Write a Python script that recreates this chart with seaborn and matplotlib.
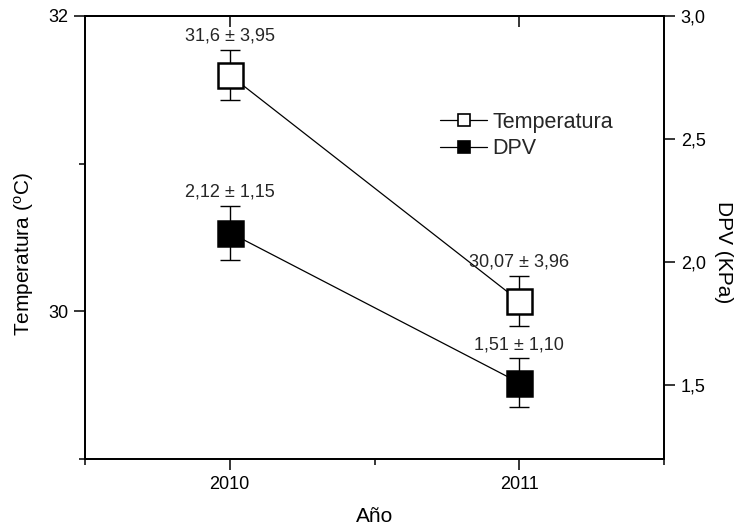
import matplotlib
matplotlib.use('Agg')
import matplotlib.pyplot as plt
import seaborn as sns
import pandas as pd
from matplotlib.lines import Line2D
from matplotlib.ticker import FixedLocator, FuncFormatter

years = [2010, 2011]
temp_mean = [31.6, 30.07]
temp_err = [0.17, 0.17]
dpv_mean = [2.12, 1.51]
dpv_err = [0.11, 0.10]
temp_labels = ["31,6 ± 3,95", "30,07 ± 3,96"]
dpv_labels = ["2,12 ± 1,15", "1,51 ± 1,10"]
temp_ticks = [30, 32]
dpv_ticks = [1.5, 2.0, 2.5, 3.0]

sns.set_theme(style='ticks')
plt.rcParams['font.family'] = ['Liberation Sans', 'DejaVu Sans']
plt.rcParams['mathtext.default'] = 'regular'

df_t = pd.DataFrame({'Año': years, 'Temperatura': temp_mean})
df_d = pd.DataFrame({'Año': years, 'DPV': dpv_mean})

fig = plt.figure(figsize=(7.36, 5.27), dpi=100)
ax = fig.add_axes([85/736, 1-459/527, (664-85)/736, (459-16)/527])
ax2 = ax.twinx()

# Temperature
ax.errorbar(years, temp_mean, yerr=temp_err, fmt='none', ecolor='black',
            elinewidth=1.0, capsize=7, capthick=1.0, zorder=2)
sns.lineplot(data=df_t, x='Año', y='Temperatura', ax=ax, color='black', lw=0.9,
             marker='s', markersize=18, markerfacecolor='white',
             markeredgecolor='black', markeredgewidth=1.8, zorder=3, legend=False)

# DPV
ax2.errorbar(years, dpv_mean, yerr=dpv_err, fmt='none', ecolor='black',
             elinewidth=1.0, capsize=7, capthick=1.0, zorder=2)
sns.lineplot(data=df_d, x='Año', y='DPV', ax=ax2, color='black', lw=0.9,
             marker='s', markersize=18, markerfacecolor='black',
             markeredgecolor='black', markeredgewidth=1.8, zorder=3, legend=False)

for x, m, e, lab in zip(years, temp_mean, temp_err, temp_labels):
    ax.annotate(lab, (x, m + e), xytext=(0, 6.5), textcoords='offset points',
                ha='center', va='baseline', fontsize=13)
for x, m, e, lab in zip(years, dpv_mean, dpv_err, dpv_labels):
    ax2.annotate(lab, (x, m + e), xytext=(0, 6.5), textcoords='offset points',
                 ha='center', va='baseline', fontsize=13)

ax.set_xlim(2009.5, 2011.5)
ax.set_ylim(29, 32)
ax2.set_ylim(1.2, 3.0)

ax.xaxis.set_major_locator(FixedLocator(years))
ax.xaxis.set_minor_locator(FixedLocator([2009.5, 2010.5, 2011.5]))
ax.xaxis.set_major_formatter(FuncFormatter(lambda v, p: f"{int(round(v))}"))
ax.yaxis.set_major_locator(FixedLocator(temp_ticks))
ax.yaxis.set_minor_locator(FixedLocator([29, 31]))
ax2.yaxis.set_major_locator(FixedLocator(dpv_ticks))
ax2.yaxis.set_major_formatter(FuncFormatter(lambda v, p: f"{v:.1f}".replace('.', ',')))

for a in (ax, ax2):
    for s in a.spines.values():
        s.set_linewidth(1.3)
        s.set_color('black')
        s.set_visible(True)

ax.tick_params(axis='both', which='major', direction='out', length=8, width=1.1,
               color='black', labelsize=13, labelcolor='black', pad=4)
ax.tick_params(axis='both', which='minor', direction='out', length=4, width=1.1,
               color='black')
ax2.tick_params(axis='y', which='major', direction='out', length=8, width=1.1,
                color='black', labelsize=13, labelcolor='black', pad=4)
ax2.tick_params(axis='y', which='minor', length=0)

top = ax.secondary_xaxis('top')
top.xaxis.set_major_locator(FixedLocator(years))
top.tick_params(axis='x', direction='in', length=8, width=1.1, color='black',
                labeltop=False)
top.spines['top'].set_linewidth(1.3)

ax.set_xlabel('Año', fontsize=15, color='black', va='center')
ax.xaxis.set_label_coords(0.5, -(517-459)/443)
ax.set_ylabel('Temperatura ($^{o}$C)', fontsize=15, color='black',
              ha='center', va='center')
ax.yaxis.set_label_coords((24-85)/579, (459-254)/443)
ax2.set_ylabel('DPV (KPa)', fontsize=15, rotation=-90, ha='center', va='center',
               color='black')
ax2.yaxis.set_label_coords((723-85)/579, (459-252)/443)

handles = [
    Line2D([0], [0], color='black', lw=0.9, marker='s', markersize=8,
           markerfacecolor='white', markeredgecolor='black', markeredgewidth=1.2),
    Line2D([0], [0], color='black', lw=0.9, marker='s', markersize=8,
           markerfacecolor='black', markeredgecolor='black', markeredgewidth=1.2),
]
ax2.legend(handles, ['Temperatura', 'DPV'], loc='upper left',
           bbox_to_anchor=(440/736, 1-112/527), bbox_transform=fig.transFigure,
           frameon=False, fontsize=15.5, handlelength=2.2, handletextpad=0.25,
           labelspacing=0.25, borderpad=0, borderaxespad=0)

fig.savefig('out.png', dpi=100)
